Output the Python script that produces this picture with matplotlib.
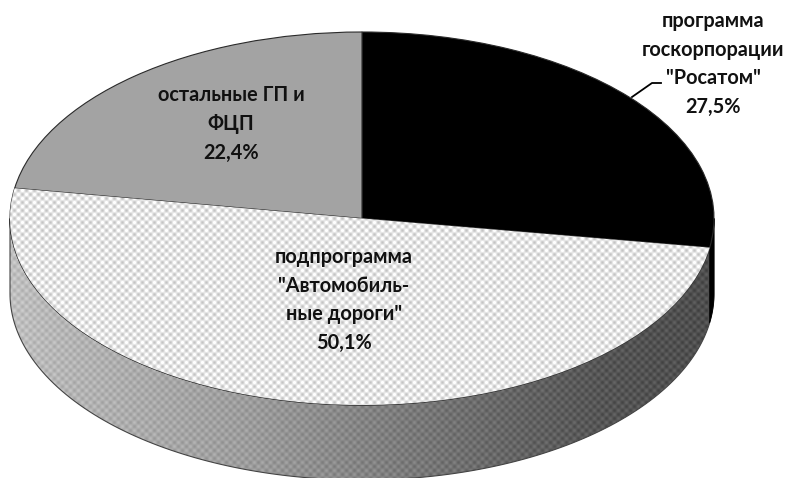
# круговая диаграмма "3D": доли программ
import numpy as np
from matplotlib import pyplot as plt
from matplotlib.patches import Polygon
from matplotlib.transforms import Affine2D

plt.rcParams['font.family'] = ['Lato', 'Open Sans', 'DejaVu Sans']

# данные
names = ['программа\nгоскорпорации\n"Росатом"', 'подпрограмма\n"Автомобиль-\nные дороги"', 'остальные ГП и\nФЦП']
shares = [27.5, 50.1, 22.4]
share_labels = ['27,5%', '50,1%', '22,4%']

W, H = 789, 478
cx, cy, rx, ry = 362, 218.5, 352, 186.5
depth = 75

fig = plt.figure(figsize=(W / 100, H / 100), dpi=100)
ax = fig.add_axes([0, 0, 1, 1])

# текстуры заливки (клетка)
xx, yy = np.meshgrid(np.arange(W), np.arange(H))
check = np.sin(np.pi * xx / 4) * np.sin(np.pi * yy / 4)
top_tex = np.clip(230 + 34 * check, 0, 255)
side_base = np.interp(xx, [10, 60, 250, 400, 520, 600, 714], [192, 182, 156, 124, 100, 86, 78])
side_tex = side_base + 16 * check

# боковая стенка
t = np.linspace(np.pi / 2, np.pi * 3 / 2, 200)
upper = np.column_stack([cx + rx * np.sin(t), cy - ry * np.cos(t)])
lower = upper[::-1] + [0, depth]
side = Polygon(np.vstack([upper, lower]), closed=True, fc='none', ec='#444444', lw=0.8, zorder=2)
ax.add_patch(side)
im = ax.imshow(side_tex, cmap='gray', vmin=0, vmax=255, extent=(0, W, H, 0), zorder=1, interpolation='nearest')
im.set_clip_path(side)

# черная полоска стенки справа (конец первого сектора)
end_a = np.radians(shares[0] / sum(shares) * 360)
t2 = np.linspace(np.pi / 2, end_a, 30)
up2 = np.column_stack([cx + rx * np.sin(t2), cy - ry * np.cos(t2)])
ax.add_patch(Polygon(np.vstack([up2, up2[::-1] + [0, depth]]), closed=True, fc='black', ec='black', lw=0.5, zorder=3))

# верхняя грань
wedges, _ = ax.pie(shares, colors=['black', 'white', '#a3a3a3'], startangle=90, counterclock=False)
tr = Affine2D().scale(rx, -ry).translate(cx, cy) + ax.transData
for w in wedges:
    w.set_transform(tr)
    w.set_edgecolor('#2a2a2a')
    w.set_linewidth(0.8)
    w.set_zorder(4)
im2 = ax.imshow(top_tex, cmap='gray', vmin=0, vmax=255, extent=(0, W, H, 0), zorder=5, interpolation='nearest')
im2.set_clip_path(wedges[1])

ax.set_aspect('auto')
ax.set_xlim(0, W)
ax.set_ylim(H, 0)
ax.axis('off')

# подписи
label_pos = [(713, 64), (344, 300), (231, 124)]
for name, lab, pos in zip(names, share_labels, label_pos):
    ax.text(pos[0], pos[1], name + '\n' + lab, ha='center', va='center', fontsize=14.3,
            fontweight='bold', color='#111111', linespacing=1.56, zorder=6)
ax.plot([632, 652, 661], [97, 83, 83], color='black', lw=1.3, zorder=6)

plt.savefig('out.png', dpi=100)
